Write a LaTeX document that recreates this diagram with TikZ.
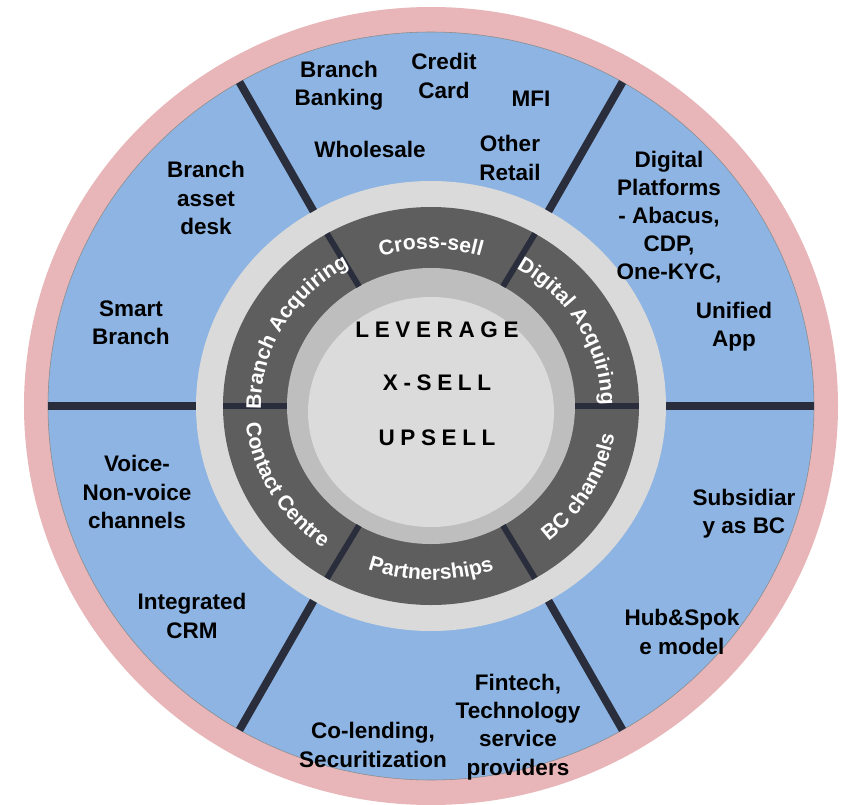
\documentclass[tikz,border=0pt]{standalone}
\usepackage{fontspec}
\setmainfont{Liberation Sans}
\usetikzlibrary{decorations.text}

\definecolor{ringpink}{HTML}{E8B6B9}
\definecolor{sectorblue}{HTML}{8DB4E2}
\definecolor{gaplight}{HTML}{DADADA}
\definecolor{ringdark}{HTML}{5E5E5E}
\definecolor{ringmid}{HTML}{BEBEBE}
\definecolor{corelight}{HTML}{DBDBDB}
\definecolor{divider}{HTML}{2A2D3B}

\newcommand{\ringfont}{\fontsize{15}{18}\selectfont\bfseries}

\begin{document}
\begin{tikzpicture}[x=0.025cm, y=0.025cm]
\tikzstyle{sectortext} = [align=center, text=black, font=\fontsize{16}{20}\selectfont\bfseries]
\tikzstyle{coretext} = [text=black, font=\fontsize{16}{19}\selectfont\bfseries\addfontfeatures{LetterSpace=25}]
\tikzstyle{bluediv} = [draw=divider, line width=5.6pt]
\tikzstyle{darkdiv} = [draw=divider, line width=4.2pt]
\tikzstyle{outward} = [decorate, decoration={text along path, text align=center, text color=white}]
\useasboundingbox (-431,-398) rectangle (410,406);

% Rings
\fill [ringpink] (0,0) ellipse [x radius=407, y radius=399];
\filldraw [fill=sectorblue, draw=black!45, line width=0.4pt] (0,0) ellipse [x radius=383, y radius=374];
\fill [gaplight] (0,0) ellipse [x radius=235, y radius=225];
\fill [ringdark] (0,0) ellipse [x radius=208, y radius=199];
\fill [ringmid] (0,0) ellipse [x radius=144, y radius=138];
\fill [corelight] (0,-6) ellipse [x radius=123, y radius=115];

% Dividers
\draw [bluediv] (0:235 and 225) -- (0:383 and 374);
\draw [bluediv] (60:235 and 225) -- (60:383 and 374);
\draw [bluediv] (120:235 and 225) -- (120:383 and 374);
\draw [bluediv] (180:235 and 225) -- (180:383 and 374);
\draw [bluediv] (240:235 and 225) -- (240:383 and 374);
\draw [bluediv] (300:235 and 225) -- (300:383 and 374);
\draw [darkdiv] (0:144 and 138) -- (0:208 and 199);
\draw [darkdiv] (60:144 and 138) -- (60:208 and 199);
\draw [darkdiv] (120:144 and 138) -- (120:208 and 199);
\draw [darkdiv] (180:144 and 138) -- (180:208 and 199);
\draw [darkdiv] (240:144 and 138) -- (240:208 and 199);
\draw [darkdiv] (300:144 and 138) -- (300:208 and 199);

% Ring labels
\path [outward, decoration={text={|\ringfont|Cross-sell}}] (120:168 and 157) arc [start angle=120, end angle=60, x radius=168, y radius=157];
\path [outward, decoration={text={|\ringfont|Digital Acquiring}}] (63:170 and 159) arc [start angle=63, end angle=-3, x radius=170, y radius=159];
\path [outward, decoration={text={|\ringfont|Branch Acquiring}}] (183:170 and 159) arc [start angle=183, end angle=117, x radius=170, y radius=159];
\path [outward, decoration={text={|\ringfont|Contact Centre}}] (180:186 and 174) arc [start angle=180, end angle=240, x radius=186, y radius=174];
\path [outward, decoration={text={|\ringfont|Partnerships}}] (240:186 and 174) arc [start angle=240, end angle=300, x radius=186, y radius=174];
\path [outward, decoration={text={|\ringfont|BC channels}}] (300:186 and 174) arc [start angle=300, end angle=360, x radius=186, y radius=174];

% Core
\node (leverage) [coretext] at (6,76) {LEVERAGE};
\node (xsell) [coretext] at (6,23) {X-SELL};
\node (upsell) [coretext] at (6,-32) {UPSELL};

% Sector labels
\node (branchbanking) [sectortext] at (-92,320) {Branch\\Banking};
\node (creditcard) [sectortext] at (13,330) {Credit\\Card};
\node (mfi) [sectortext] at (100,307) {MFI};
\node (wholesale) [sectortext] at (-61,257) {Wholesale};
\node (otherretail) [sectortext] at (79,248) {Other\\Retail};
\node (assetdesk) [sectortext] at (-225,208) {Branch\\asset\\desk};
\node (smartbranch) [sectortext] at (-300,83) {Smart\\Branch};
\node (platforms) [sectortext] at (238,189) {Digital\\Platforms\\- Abacus,\\CDP,\\One-KYC,};
\node (unifiedapp) [sectortext] at (303,79) {Unified\\App};
\node (voice) [sectortext] at (-294,-86) {Voice-\\Non-voice\\channels};
\node (crm) [sectortext] at (-239,-210) {Integrated\\CRM};
\node (subsidiary) [sectortext] at (313,-108) {Subsidiar\\y as BC};
\node (hubspoke) [sectortext] at (251,-226) {Hub\&Spok\\e model};
\node (fintech) [sectortext] at (87,-321) {Fintech,\\Technology\\service\\providers};
\node (colending) [sectortext] at (-58,-339) {Co-lending,\\Securitization};

\end{tikzpicture}
\end{document}
